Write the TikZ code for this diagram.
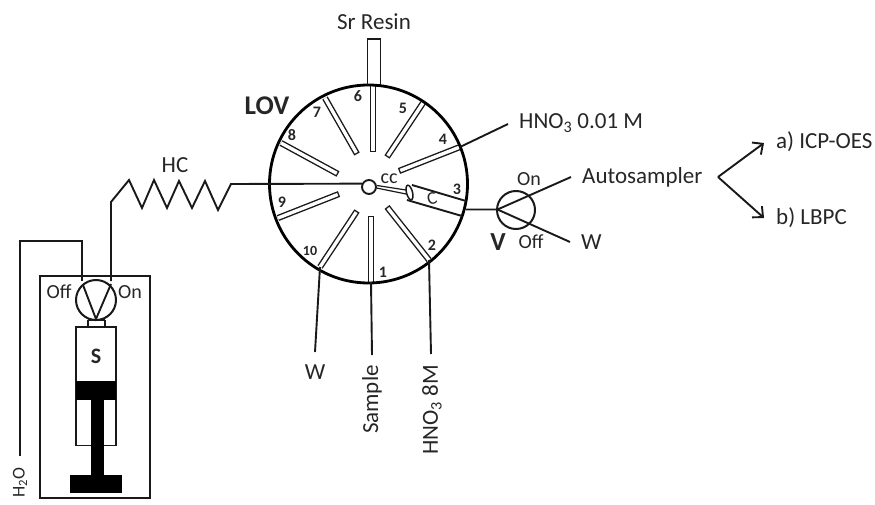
\documentclass[tikz,border=0pt]{standalone}
\usepackage{fontspec}
\setmainfont{Carlito}
\usetikzlibrary{arrows.meta,shapes.geometric}
\tikzset{
  ln/.style={line width=1.9pt,line join=miter,draw=black!90},
  lab/.style={font=\fontsize{23}{23}\selectfont,inner sep=0pt,text=black!85},
  small lab/.style={font=\fontsize{20}{20}\selectfont,inner sep=0pt,text=black!85},
  num/.style={font=\fontsize{16}{16}\selectfont\bfseries,inner sep=0pt,text=black!85},
  big lab/.style={font=\fontsize{26}{26}\selectfont\bfseries,inner sep=0pt,text=black!85},
  arr/.style={ln,-{Straight Barb[length=8pt,width=15pt,line width=1.9pt]}},
}
\newcommand{\portbar}[2]{%
  \draw[line width=6.2pt,black!90] (#1) -- (#2);
  \draw[line width=3.4pt,white,shorten >=1.4pt] (#1) -- (#2);}
\begin{document}
\begin{tikzpicture}[x=1pt,y=-1pt]
\useasboundingbox (0,0) rectangle (875,505);
% port bars: outer / inner ends
\coordinate (p1o) at (371,282); \coordinate (p1i) at (371,216);
\coordinate (p2o) at (429,260); \coordinate (p2i) at (387,207);
\coordinate (p4o) at (460,147); \coordinate (p4i) at (399,171);
\coordinate (p5o) at (423,103); \coordinate (p5i) at (387,157);
\coordinate (p6o) at (373,86);  \coordinate (p6i) at (373,152);
\coordinate (p7o) at (325,98);  \coordinate (p7i) at (357,154);
\coordinate (p8o) at (281,143); \coordinate (p8i) at (338,174);
\coordinate (p9o) at (278,218); \coordinate (p9i) at (339,194);
\coordinate (p10o) at (320,267);\coordinate (p10i) at (357,211);
\foreach \n in {1,2,4,5,6,7,8,9,10} {\portbar{p\n o}{p\n i}}
% LOV
\node[circle,draw=black,line width=2.8pt,minimum size=198pt,inner sep=0pt] (lov) at (368.5,184) {};
\node[circle,draw=black!90,line width=1.9pt,fill=white,minimum size=14pt,inner sep=0pt] (cc) at (369,187) {};
% column C
\coordinate (c1) at (412,185); \coordinate (c2) at (466,201);
\coordinate (c3) at (462,216); \coordinate (c4) at (407,200);
\draw[ln] (c1) -- (c2) (c3) -- (c4);
\node[ellipse,draw=black!90,line width=1.5pt,fill=white,minimum width=6pt,minimum height=15pt,inner sep=0pt,rotate=15] (cend) at (409.5,192.5) {};
\draw[line width=1.2pt,black!90] (cc.east) ++(0,-1.5) -- (406,190);
\draw[line width=1.2pt,black!90] (cc.east) ++(-0.5,1) -- (406,194);
% Sr resin column
\coordinate (r1) at (367.5,85); \coordinate (r2) at (367.5,39);
\coordinate (r3) at (380.5,39); \coordinate (r4) at (380.5,85);
\draw[ln] (r1) -- (r2) -- (r3) -- (r4);
% port leads
\coordinate (e4) at (508,124); \coordinate (e10) at (315,352);
\coordinate (e1) at (372,355); \coordinate (e2) at (431,354);
\draw[ln] (p4o) -- (e4);
\draw[ln] (p10o) -- (e10);
\draw[ln] (p1o) -- (e1);
\draw[ln] (p2o) -- (e2);
% valve V
\node[circle,draw=black!90,line width=2pt,minimum size=38pt,inner sep=0pt] (v) at (516,210) {};
\coordinate (vl) at (497.5,209.5); \coordinate (vs) at (466,209.5);
\coordinate (von) at (571,177); \coordinate (voff) at (570,242);
\draw[ln] (vs) -- (vl) -- (von);
\draw[ln] (vl) -- (voff);
% output arrows
\coordinate (ap) at (718,177); \coordinate (aa) at (764,143); \coordinate (ab) at (764,218);
\draw[arr] (ap) -- (aa);
\draw[arr] (ap) -- (ab);
% holding coil
\coordinate (hs) at (231,184); \coordinate (on) at (111,281);
\draw[ln] (cc.155) -- (hs) -- (218,210) -- (205,181) -- (192,208) -- (179,181) -- (167,208) -- (154,180) -- (142,208) -- (129,180) -- (111,202) -- (on);
% syringe box
\node[draw=black!90,line width=2.2pt,minimum width=110pt,minimum height=222pt,inner sep=0pt] (box) at (95,387) {};
\node[circle,draw=black!90,line width=2pt,minimum size=40pt,inner sep=0pt] (sv) at (96,300) {};
\coordinate (sb) at (96,319); \coordinate (off) at (82,281);
\coordinate (h1) at (20,456); \coordinate (h2) at (20,241); \coordinate (h3) at (82,241);
\draw[ln] (h1) -- (h2) -- (h3) -- (off);
\draw[ln] (off) ++(1,4) -- (sb) -- (111,284);
\draw[ln] (88,320) -- (88,326) (105,320) -- (105,326) (88,320) -- (105,320);
\draw[ln] (76,327) rectangle (116,445.5);
\fill[black] (76,381) rectangle (116,400);
\fill[black] (91,400) rectangle (104,475);
\fill[black] (70,475) rectangle (122,493);
% labels
\node[lab] (tsr) at (374,22) {Sr Resin};
\node[big lab,font=\fontsize{27}{27}\selectfont\bfseries] (tlov) at (267,106) {LOV};
\node[lab,anchor=west] (thno) at (519,123) {HNO\textsubscript{3} 0.01 M};
\node[lab] (thc) at (175,165) {HC};
\node[lab,anchor=west] (tauto) at (582,177) {Autosampler};
\node[lab,anchor=west] (tw2) at (581,242) {W};
\node[lab,anchor=west] (ta) at (776,142) {a) ICP-OES};
\node[lab,anchor=west] (tb) at (776,218) {b) LBPC};
\node[small lab] (von2) at (529,179) {On};
\node[small lab] (voff2) at (531,242) {Off};
\node[big lab] (tv) at (498,242) {V};
\node[lab] (tw) at (315,372) {W};
\node[lab,rotate=90,anchor=east] (ts) at (372,365) {Sample};
\node[lab,rotate=90,anchor=east] (th8) at (432,365) {HNO\textsubscript{3} 8M};
\node[lab,rotate=90,anchor=east,font=\fontsize{18}{18}\selectfont] (th2o) at (20,467) {H\textsubscript{2}O};
\node[small lab] (soff) at (59,292) {Off};
\node[small lab] (son) at (130,292) {On};
\node[big lab,font=\fontsize{22}{22}\selectfont\bfseries] (ts2) at (96,356) {S};
\node[num] at (383,272) {1};
\node[num] at (432,245) {2};
\node[num] at (457,189) {3};
\node[num] at (443,139) {4};
\node[num] at (403,108) {5};
\node[num] at (358,96) {6};
\node[num] at (317,112) {7};
\node[num] at (292,135) {8};
\node[num] at (282,202) {9};
\node[num,font=\fontsize{14}{14}\selectfont\bfseries] at (310,251) {10};
\node[small lab] (tcc) at (389,179) {cc};
\node[small lab,rotate=15,font=\fontsize{18}{18}\selectfont] (tc) at (432,199) {C};
\end{tikzpicture}
\end{document}
